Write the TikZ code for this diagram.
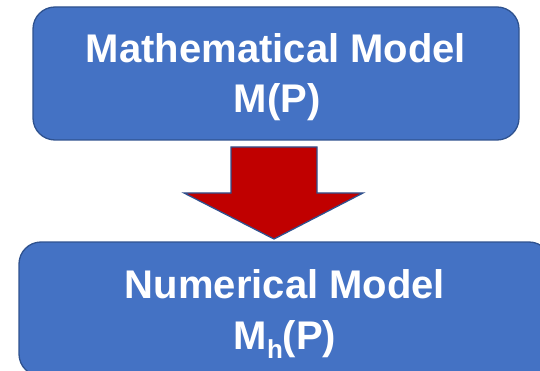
\documentclass[tikz,border=0pt]{standalone}
\usepackage{fontspec}
\setmainfont{Liberation Sans}
\definecolor{boxblue}{HTML}{4472C4}
\definecolor{boxedge}{HTML}{2F528F}
\definecolor{arrowred}{HTML}{C00000}
\begin{document}
\begin{tikzpicture}[x=1pt,y=-1pt,
  modelbox/.style={draw=boxedge, line width=1.3pt, fill=boxblue, rounded corners=22pt,
    inner sep=0pt},
  boxtext/.style={text=white, inner sep=0pt, anchor=base,
    font=\fontsize{40}{50}\selectfont\bfseries},
  bigarrow/.style={draw=boxedge, line width=1.3pt, fill=arrowred, line join=miter}]
\useasboundingbox (0,0) rectangle (540,371);
\node[modelbox, minimum width=486pt, minimum height=133pt] (math) at (276,73.5) {};
\node[boxtext] (mathA) at (276,63) {Mathematical Model};
\node[boxtext] (mathB) at (277,113) {M(P)};
\node[modelbox, minimum width=532pt, minimum height=134pt] (num) at (285,309) {};
\node[boxtext] (numA) at (285,298) {Numerical Model};
\node[boxtext] (numB) at (285,349) {M\raisebox{-9pt}{\fontsize{26}{26}\selectfont h}(P)};
\coordinate (sl) at (231,147);
\coordinate (sr) at (317,147);
\coordinate (tip) at (274,239);
\draw[bigarrow] (sl) -- (sr) -- (sr |- 0,193) -- (363,193) -- (tip) -- (184,193) -- (sl |- 0,193) -- cycle;
\end{tikzpicture}
\end{document}
